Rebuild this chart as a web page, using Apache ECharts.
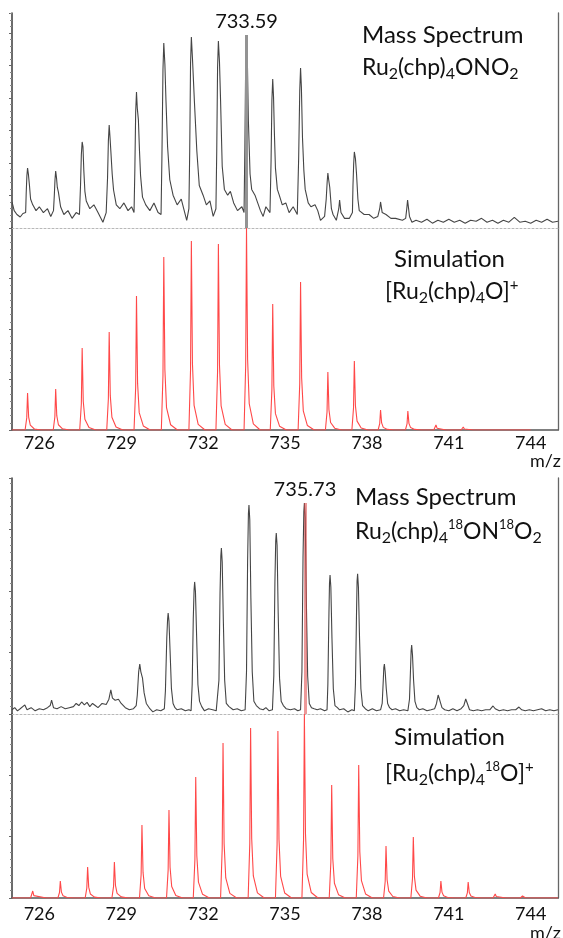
<!DOCTYPE html>
<html>
<head>
<meta charset="utf-8">
<script src="https://cdn.jsdelivr.net/npm/echarts@6/dist/echarts.min.js"></script>
<style>
html, body { margin: 0; padding: 0; background: #fff; }
#main { width: 563px; height: 938px; }
</style>
</head>
<body>
<div id="main"></div>
<script>
// m/z axis labels
var tickLabels = [726, 729, 732, 735, 738, 741, 744];
var peakTop = 733.59;
var peakBottom = 735.73;

// measured spectrum, Ru2(chp)4ONO2 (relative intensity, % of 733.59 peak)
var expTop = [
  [725.0,13.5],[725.08,9],[725.18,7],[725.3,5.7],[725.4,7.5],[725.5,8],
  [725.52,18],[725.545,27],[725.57,31],[725.6,28],[725.64,22],[725.68,15],[725.76,12],[725.88,9],[726.0,11],[726.15,8],[726.3,10],[726.42,6],[726.52,9],
  [726.55,17],[726.575,25],[726.6,29.5],[726.63,26],[726.66,21],[726.7,18.6],[726.78,11],[726.9,7],[727.05,9],[727.2,5],[727.35,8],[727.47,7],
  [727.51,22],[727.54,38],[727.57,44.6],[727.6,42],[727.63,30],[727.67,19],[727.72,14],[727.85,10],[728.0,12],[728.15,8],[728.33,3],[728.45,8],
  [728.5,26],[728.53,45],[728.56,53.4],[728.59,47],[728.62,40],[728.67,28],[728.72,19.7],[728.82,12],[728.95,10],[729.1,13],[729.25,9],[729.38,11],[729.47,8],
  [729.5,30],[729.53,60],[729.56,70.5],[729.59,62],[729.63,56],[729.67,40],[729.71,27],[729.78,16],[729.9,12],[730.05,9],[730.2,13],[730.35,8],[730.46,7],
  [730.49,35],[730.53,82],[730.56,95.9],[730.6,85],[730.64,66],[730.7,42],[730.78,25],[730.9,17],[731.05,12],[731.2,15],[731.4,4],[731.48,10],
  [731.51,40],[731.54,85],[731.57,99],[731.61,88],[731.68,66],[731.77,40],[731.86,22],[732.0,17],[732.12,12],[732.25,14],[732.37,6],[732.47,10],
  [732.5,40],[732.53,83],[732.56,96.9],[732.6,86],[732.64,66],[732.7,32],[732.78,20],[732.9,17],[733.0,19],[733.12,13],[733.26,9],[733.42,11],[733.5,8],
  [733.53,42],[733.56,86],[733.59,100],[733.62,88],[733.66,55],[733.72,28],[733.78,20],[733.9,17],[734.0,13],[734.1,9],[734.2,6],[734.3,11],[734.45,8],
  [734.49,35],[734.52,66],[734.55,77.2],[734.58,68],[734.61,50],[734.65,31],[734.72,20],[734.79,17],[734.9,12],[735.03,13],[735.15,8],[735.3,11],[735.45,7],
  [735.5,36],[735.54,71],[735.57,82.9],[735.6,73],[735.64,47],[735.69,30],[735.74,20],[735.85,13],[735.95,11],[736.1,12],[736.2,9],[736.3,4],[736.45,6],
  [736.51,15],[736.545,24],[736.57,28.5],[736.6,25],[736.64,21],[736.7,10],[736.76,7],[736.88,4],[736.97,10],[737.0,14.5],[737.05,8],[737.18,5],[737.36,5],[737.47,8],
  [737.49,22],[737.515,33],[737.54,39.4],[737.58,36],[737.62,28],[737.67,15],[737.72,9],[737.9,7],[738.08,7],[738.25,5],[738.4,6],[738.47,10],[738.5,13.5],[738.56,8],[738.7,7],[738.88,5],[739.05,5],[739.3,4],[739.42,5],
  [739.46,10],[739.49,14.5],[739.56,6],[739.65,3],[739.8,4],[740.0,3],[740.2,4.5],[740.4,2.5],[740.6,4],[740.8,3],[741.0,4.5],[741.2,3],[741.4,4],[741.6,2.5],[741.8,4],
  [742.0,3.5],[742.2,5],[742.4,3],[742.6,4],[742.8,2.5],[743.0,4],[743.2,3],[743.4,5.5],[743.6,3],[743.8,3.5],[744.0,2.5],[744.2,4],[744.4,3],[744.6,4.5],[744.8,3],[745.0,3.5]
];

// simulation, [Ru2(chp)4O]+
var simTop = [
  [725.0,0],
  [725.48,0],[725.54,6],[725.57,18.3],[725.61,6.4],[725.67,2.4],[725.82,0.5],[726.07,0],
  [726.51,0],[726.57,6.5],[726.6,20.3],[726.64,7.1],[726.7,2.6],[726.85,0.6],[727.1,0],
  [727.48,0],[727.54,13],[727.57,40.6],[727.61,14.2],[727.67,5.3],[727.82,1.2],[728.07,0],
  [728.47,0],[728.53,15.5],[728.56,48.5],[728.6,17],[728.66,6.3],[728.81,1.5],[729.06,0],
  [729.47,0],[729.53,21],[729.56,66.3],[729.6,23.2],[729.66,8.6],[729.81,2],[730.06,0],
  [730.47,0],[730.53,27],[730.56,85.6],[730.6,30],[730.66,11.1],[730.81,2.6],[731.06,0],
  [731.48,0],[731.54,30],[731.57,93.6],[731.61,32.8],[731.67,12.2],[731.82,2.8],[732.07,0],
  [732.47,0],[732.53,29],[732.56,92.1],[732.6,32.2],[732.66,12],[732.81,2.8],[733.06,0],
  [733.5,0],[733.56,32],[733.59,100],[733.63,35],[733.69,13],[733.84,3],[734.09,0],
  [734.46,0],[734.52,20],[734.55,62.4],[734.59,21.8],[734.65,8.1],[734.8,1.9],[735.05,0],
  [735.48,0],[735.54,23],[735.57,73.3],[735.61,25.7],[735.67,9.5],[735.82,2.2],[736.07,0],
  [736.48,0],[736.54,9],[736.57,28.7],[736.61,10],[736.67,3.7],[736.82,0.9],[737.07,0],
  [737.45,0],[737.51,11],[737.54,34.2],[737.58,12],[737.64,4.4],[737.79,1],[738.04,0],
  [738.41,0],[738.47,3.2],[738.5,9.9],[738.54,3.5],[738.6,1.3],[738.75,0.3],[739.0,0],
  [739.41,0],[739.47,3],[739.5,9.4],[739.54,3.3],[739.6,1.2],[739.75,0.3],[740.0,0],
  [740.45,0],[740.53,2.5],[740.57,0.9],[740.63,0.3],[740.9,0],
  [741.45,0],[741.53,1.5],[741.57,0.5],[741.63,0.2],[741.9,0],
  [744.0,0]
];

// measured spectrum, Ru2(chp)4 18O N 18O2 (% of 735.73 peak)
var expBottom = [
  [725.0,2],[725.1,3],[725.2,1.5],[725.3,2.5],[725.47,4.3],[725.55,2],[725.7,3],[725.85,1.5],[726.0,2.5],[726.15,2],[726.3,3],[726.4,4],
  [726.45,6.6],[726.52,3],[726.65,2.5],[726.8,3.5],[726.95,2.5],[727.1,3],[727.25,3.5],[727.35,5],[727.45,4],[727.55,5.7],[727.65,4.3],
  [727.75,5.5],[727.85,3.5],[727.95,5],[728.05,4],[728.15,3],[728.3,5],[728.45,4.5],[728.55,7],[728.62,11.4],[728.68,7.5],[728.78,6.5],
  [728.9,7],[729.0,5],[729.15,3],[729.3,2],[729.45,2.5],[729.55,4],
  [729.59,9],[729.64,20],[729.68,23.7],[729.72,20],[729.78,17],[729.84,10],[729.92,5],[730.05,2.5],[730.16,1],[730.3,2],[730.45,1.5],[730.58,2.5],
  [730.62,11],[730.67,36],[730.7,45],[730.72,47.9],[730.75,44],[730.79,30],[730.84,12],[730.9,5],[730.97,3],[731.05,2],[731.2,2.5],[731.35,1.5],[731.48,2],[731.56,1.5],
  [731.6,14],[731.64,45],[731.67,59],[731.69,62.6],[731.72,58],[731.76,38],[731.81,14],[731.87,6],[731.95,3.5],[732.05,1.5],[732.2,2.5],[732.35,2],[732.48,1.5],[732.54,2],
  [732.58,16],[732.62,57],[732.65,75],[732.67,78.7],[732.7,72],[732.74,45],[732.79,16],[732.85,5],[732.95,3.5],[733.1,2],[733.25,2.5],[733.4,1.5],[733.54,2],
  [733.59,20],[733.63,72],[733.66,95],[733.68,99],[733.71,92],[733.75,55],[733.8,20],[733.86,6],[733.95,4],[734.07,2.5],[734.2,2],[734.3,3],[734.42,1.5],[734.54,2],
  [734.59,18],[734.63,62],[734.66,82],[734.68,85.8],[734.71,80],[734.75,48],[734.8,17],[734.86,6],[734.94,4],[735.04,2.5],[735.2,2],[735.35,2.5],[735.47,1.5],[735.57,2],
  [735.62,20],[735.66,74],[735.69,96],[735.71,100],[735.74,93],[735.78,55],[735.83,18],[735.89,5],[735.97,3],[736.07,2.5],[736.18,2],[736.3,2.5],[736.45,1.5],[736.54,2],
  [736.57,14],[736.61,48],[736.63,62],[736.65,65.9],[736.68,60],[736.72,36],[736.77,12],[736.83,4],[736.92,3],[737.0,2],[737.15,2.5],[737.3,1],[737.45,2],[737.54,1.5],
  [737.58,14],[737.62,48],[737.64,63],[737.66,66.4],[737.69,60],[737.73,36],[737.78,12],[737.84,4],[737.94,2.5],[738.05,1.5],[738.2,2.5],[738.35,1.5],[738.5,2],
  [738.56,5],[738.6,16],[738.62,22],[738.64,23.7],[738.67,20],[738.71,12],[738.76,5],[738.83,3],[738.92,2],[739.05,2.5],[739.2,1.5],[739.35,2],[739.5,1.5],
  [739.56,7],[739.6,22],[739.62,30],[739.64,32.7],[739.67,28],[739.71,16],[739.76,6],[739.83,3],[739.92,2],[740.05,2.5],[740.2,1.5],[740.35,2],[740.48,2.5],
  [740.55,5],[740.61,9],[740.67,6.5],[740.75,3],[740.85,2],[741.0,1.5],[741.15,2.5],[741.3,1.5],[741.45,2.5],
  [741.55,4],[741.62,7.1],[741.68,5],[741.76,2],[741.9,1.5],[742.05,2],[742.2,1.5],[742.35,2],[742.5,2],
  [742.62,3.8],[742.7,2.5],[742.85,1.5],[743.0,2],[743.15,1.5],[743.3,2],[743.45,2],
  [743.57,3.3],[743.67,2],[743.8,1.5],[743.95,2],[744.1,1.5],[744.25,2],[744.4,2.5],[744.55,1.5],[744.7,2],[744.85,1.5],[745.0,2]
];

// simulation, [Ru2(chp)4 18O]+
var simBottom = [
  [725.0,0],
  [725.68,0],[725.76,3.8],[725.8,1.3],[725.86,0.5],[726.26,0],
  [726.68,0],[726.74,3],[726.77,9.2],[726.81,3.2],[726.87,1.2],[727.02,0.3],[727.27,0],
  [727.68,0],[727.74,5.4],[727.77,16.8],[727.81,5.9],[727.87,2.2],[728.02,0.5],[728.27,0],
  [728.66,0],[728.72,6.3],[728.75,19.6],[728.79,6.9],[728.85,2.5],[729.0,0.6],[729.25,0],
  [729.67,0],[729.73,12.7],[729.76,39.7],[729.8,13.9],[729.86,5.2],[730.01,1.2],[730.26,0],
  [730.66,0],[730.72,15.3],[730.75,47.8],[730.79,16.7],[730.85,6.2],[731.0,1.4],[731.25,0],
  [731.64,0],[731.7,21],[731.73,65.8],[731.77,23],[731.83,8.6],[731.98,2],[732.23,0],
  [732.64,0],[732.7,27],[732.73,84.2],[732.77,29.5],[732.83,10.9],[732.98,2.5],[733.23,0],
  [733.65,0],[733.71,29.6],[733.74,92.4],[733.78,32.3],[733.84,12],[733.99,2.8],[734.24,0],
  [734.65,0],[734.71,29],[734.74,90.8],[734.78,31.8],[734.84,11.8],[734.99,2.7],[735.24,0],
  [735.62,0],[735.68,32],[735.71,100],[735.75,35],[735.81,13],[735.96,3],[736.21,0],
  [736.62,0],[736.68,19.6],[736.71,61.4],[736.75,21.5],[736.81,8],[736.96,1.8],[737.21,0],
  [737.61,0],[737.67,23],[737.7,72.3],[737.74,25.3],[737.8,9.4],[737.95,2.2],[738.2,0],
  [738.61,0],[738.67,9],[738.7,28.3],[738.74,9.9],[738.8,3.7],[738.95,0.8],[739.2,0],
  [739.61,0],[739.67,10.6],[739.7,33.2],[739.74,11.6],[739.8,4.3],[739.95,1],[740.2,0],
  [740.62,0],[740.68,3],[740.71,9.2],[740.75,3.2],[740.81,1.2],[740.96,0.3],[741.21,0],
  [741.62,0],[741.68,2.8],[741.71,8.7],[741.75,3],[741.81,1.1],[741.96,0.3],[742.21,0],
  [742.62,0],[742.7,2.2],[742.74,0.8],[742.8,0.3],[743.1,0],
  [743.62,0],[743.7,1.1],[743.74,0.4],[743.8,0.1],[744.1,0],
  [745.0,0]
];

var FONT = 'Lato';
var rich = {
  m: { fontFamily: FONT, fontSize: 24, color: '#111', lineHeight: 28, verticalAlign: 'middle' },
  f: { fontFamily: FONT, fontSize: 23, color: '#111', lineHeight: 28, verticalAlign: 'middle' },
  s: { fontFamily: FONT, fontSize: 16, color: '#111', lineHeight: 14, padding: [14, 0, 0, 0], verticalAlign: 'bottom' },
  p: { fontFamily: FONT, fontSize: 15, color: '#111', lineHeight: 12, padding: [0, 0, 16, 0], verticalAlign: 'top' },
  n: { fontFamily: FONT, fontSize: 13, color: '#111', lineHeight: 16, padding: [0, 0, 12, 0], verticalAlign: 'top' }
};

function label(text, left, top) {
  return { text: text, left: left, top: top, padding: 0, itemGap: 0,
    textStyle: { fontFamily: FONT, fontSize: 24, fontWeight: 'normal', color: '#111', rich: rich } };
}
function mz(top) {
  return { text: 'm/z', left: 530, top: top, padding: 0,
    textStyle: { fontFamily: FONT, fontSize: 18, fontWeight: 'normal', color: '#111' } };
}

function xAx(grid, bottom, margin) {
  return {
    type: 'value', gridIndex: grid, min: 725, max: 745,
    axisLine: { show: true, onZero: false, lineStyle: bottom ? { color: '#555', width: 1.5 } : { color: '#b8b8b8', width: 1, type: [2, 2] } },
    axisTick: { show: false },
    splitLine: { show: false },
    axisLabel: { show: bottom, customValues: tickLabels, margin: margin, fontFamily: FONT, fontSize: 18, color: '#111' }
  };
}
function yAx(grid, max, interval, minor) {
  return {
    type: 'value', gridIndex: grid, min: 0, max: max, interval: interval,
    axisLine: { show: true, lineStyle: { color: '#3a3a3a', width: 1.5 } },
    axisTick: { show: true, length: 3, lineStyle: { color: '#666' } },
    minorTick: { show: true, splitNumber: minor, length: 2, lineStyle: { color: '#888' } },
    splitLine: { show: false }, minorSplitLine: { show: false },
    axisLabel: { show: false }
  };
}
function border(grid) {
  return {
    type: 'value', gridIndex: grid, position: 'right', min: 0, max: 1,
    axisLine: { show: true, lineStyle: { color: '#666', width: 1.3 } },
    axisTick: { show: false }, axisLabel: { show: false }, splitLine: { show: false }
  };
}
function peakLine(x, color, text) {
  return {
    silent: true, symbol: ['none', 'none'], animation: false,
    lineStyle: { color: color, width: 3, type: 'solid' },
    label: { show: true, position: 'end', distance: 3, formatter: text, fontFamily: FONT, fontSize: 20, color: '#111' },
    data: [[{ coord: [x, 0] }, { coord: [x, 100] }]]
  };
}

var chart = echarts.init(document.getElementById('main'));
var option = {
  animation: false,
  backgroundColor: '#fff',
  title: [
    label('{m|Mass Spectrum}', 362, 21),
    label('{f|Ru}{s|2}{f|(chp)}{s|4}{f|ONO}{s|2}', 362, 54),
    label('{m|Simulation}', 394, 245),
    label('{f|[Ru}{s|2}{f|(chp)}{s|4}{f|O]}{p|+}', 385, 278),
    label('{m|Mass Spectrum}', 355, 483),
    label('{f|Ru}{s|2}{f|(chp)}{s|4}{n|18}{f|ON}{n|18}{f|O}{s|2}', 355, 518),
    label('{m|Simulation}', 394, 723),
    label('{f|[Ru}{s|2}{f|(chp)}{s|4}{n|18}{f|O]}{p|+}', 385, 760),
    mz(452),
    mz(924)
  ],
  grid: [
    { left: 12, right: 5, top: 13, height: 215 },
    { left: 12, right: 5, top: 228, height: 202 },
    { left: 12, right: 5, top: 478, height: 236 },
    { left: 12, right: 5, top: 714, height: 184 }
  ],
  xAxis: [xAx(0, false, 0), xAx(1, true, 4), xAx(2, false, 0), xAx(3, true, 7)],
  yAxis: [
    yAx(0, 111.4, 16.84, 5),
    yAx(1, 100, 25, 7),
    yAx(2, 111.85, 29.15, 8),
    yAx(3, 100, 33.33, 8),
    border(0), border(1), border(2), border(3)
  ],
  series: [
    { type: 'line', xAxisIndex: 0, yAxisIndex: 0, data: expTop, symbol: 'none',
      lineStyle: { color: '#454545', width: 1.1 }, z: 3,
      markLine: peakLine(peakTop, '#939393', String(peakTop)) },
    { type: 'line', xAxisIndex: 1, yAxisIndex: 1, data: simTop, symbol: 'none',
      lineStyle: { color: '#ff4848', width: 1.1 }, z: 3 },
    { type: 'line', xAxisIndex: 2, yAxisIndex: 2, data: expBottom, symbol: 'none',
      lineStyle: { color: '#454545', width: 1.1 }, z: 3,
      markLine: peakLine(peakBottom, 'rgba(220,70,70,0.55)', String(peakBottom)) },
    { type: 'line', xAxisIndex: 3, yAxisIndex: 3, data: simBottom, symbol: 'none',
      lineStyle: { color: '#ff4848', width: 1.1 }, z: 3 }
  ]
};
chart.setOption(option);
window.addEventListener('resize', function () {
  chart.resize();
});
</script>
</body>
</html>
